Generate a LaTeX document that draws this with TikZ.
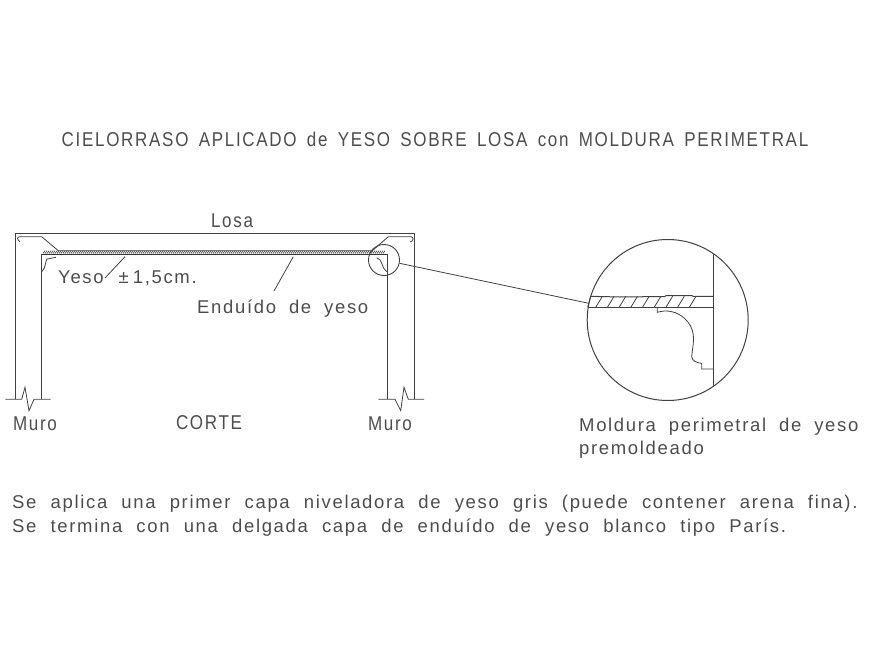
\documentclass[tikz,border=0pt]{standalone}
\usepackage{fontspec}
\setmainfont[LetterSpace=9,WordSpace=1.9]{Liberation Sans}
\newfontfamily\capfont[FakeStretch=0.85,LetterSpace=8.5,WordSpace=1.6]{Liberation Sans}
\newfontfamily\notefont[LetterSpace=9,WordSpace=2.08]{Liberation Sans}
\tikzset{
    cadtext/.style = {font=\fontsize{18.5}{18.5}\selectfont, text=black!70, inner sep=0pt},
    notetext/.style = {font=\notefont\fontsize{18.5}{18.5}\selectfont, text=black!70, inner sep=0pt},
    captext/.style = {font=\capfont\fontsize{20}{20}\selectfont, text=black!70, inner sep=0pt},
    cadline/.style = {line width=1pt, black!75},
    thinline/.style = {line width=0.8pt, black!75}
}

\begin{document}
\begin{tikzpicture}[x=1pt, y=-1pt]
    \useasboundingbox (0,0) rectangle (870,669);
    \node[captext] (title) at (435,139) {CIELORRASO APLICADO de YESO SOBRE LOSA con MOLDURA PERIMETRAL};
    \node[captext] (losa) at (232,221) {Losa};
    \node[cadtext, anchor=west] (yeso) at (58,278) {Yeso\hspace{15pt}±\hspace{4pt}1,5cm.};
    \node[cadtext, anchor=west] (enduido) at (197,309) {Enduído de yeso};
    \node[captext] (muroL) at (35,424) {Muro};
    \node[captext] (corte) at (209,423) {CORTE};
    \node[captext] (muroR) at (390,424) {Muro};
    \node[cadtext, anchor=west] (moldura) at (579,427) {Moldura perimetral de yeso};
    \node[cadtext, anchor=west] (premol) at (579,450) {premoldeado};
    \node[notetext, anchor=west] (notaA) at (12,504) {Se aplica una primer capa niveladora de yeso gris (puede contener arena fina).};
    \node[notetext, anchor=west] (notaB) at (12,528) {Se termina con una delgada capa de enduído de yeso blanco tipo París.};

    % corte
    \draw[cadline] (15.5,399.3) -- (15.5,233.5) -- (414,233.5) -- (414,399.3);
    \draw[cadline] (41.7,399.3) -- (41.7,254) -- (387.7,254) -- (387.7,399.3);
    \draw[thinline] (20,241.7) .. controls (17,240) and (16.5,236.7) .. (20,236.7) -- (41.7,236.7) -- (58.3,250.7)
        -- (372.3,250.7) -- (388.3,236.7) -- (411,236.7) .. controls (414,237) and (414,241) .. (410,242);
    \draw[thinline] (41.7,271.7) .. controls (46,268) and (45,262) .. (47,259) -- (56,257.3);
    \draw[thinline] (376.7,257.7) .. controls (383,259) and (381,268) .. (386.7,271.7);
    \foreach \x in {43,45,...,384}
        \draw[line width=0.7pt, black!70] (\x,253.5) -- ++(2,-2.8);
    \draw[line width=1.6pt, black!80] (41.7,254.5) -- (387.7,254.5);

    \draw[thinline] (5.3,399.3) -- (21.7,399.3) -- (25,387.3) -- (29,410.7) -- (34,399.3) -- (50.7,399.3);
    \draw[thinline] (378.3,399.3) -- (395,399.3) -- (400.7,410.7) -- (404,387.3) -- (408.3,399.3) -- (424,399.3);

    % leaders
    \coordinate (yesoTip) at (125,256.7);
    \coordinate (yesoEnd) at (105,278);
    \coordinate (enduidoTip) at (293.3,256.7);
    \coordinate (enduidoEnd) at (274,291);
    \draw[thinline] (yesoTip) -- (yesoEnd);
    \draw[thinline] (enduidoTip) -- (enduidoEnd);

    % detalle
    \node[circle, draw=black!75, line width=0.9pt, minimum size=31pt, inner sep=0pt] (lupa) at (384,260) {};
    \node[circle, draw=black!75, line width=1pt, minimum size=161pt, inner sep=0pt] (detalle) at (667.7,320) {};
    \draw[thinline] (lupa) -- (detalle);
    \draw[cadline] (713,254) -- (713,386.7);
    \draw[cadline] (590.7,296.3) -- (620,297) -- (665,296.5) -- (666,295.5) -- (692,295.5) -- (693,296.3) -- (713,296.3);
    \draw[cadline] (587.7,307.3) -- (713,307.3);
    \draw[thinline] (587.7,307.3) -- (590.7,296.3);
    \foreach \x in {595.7,607.4,...,700}
        \draw[thinline] (\x,307.3) -- ++(6.7,-11);
    \draw[thinline] (657.3,307.3) -- (657.3,312.3) .. controls (662,311) and (667,310.5) .. (671.7,311.7)
        .. controls (680,313) and (692,322) .. (693.3,335) .. controls (694,345) and (692,350) .. (691.7,356.7)
        .. controls (692,361) and (697,363) .. (701.7,363.3) -- (701.7,369) -- (713,369);
\end{tikzpicture}
\end{document}
